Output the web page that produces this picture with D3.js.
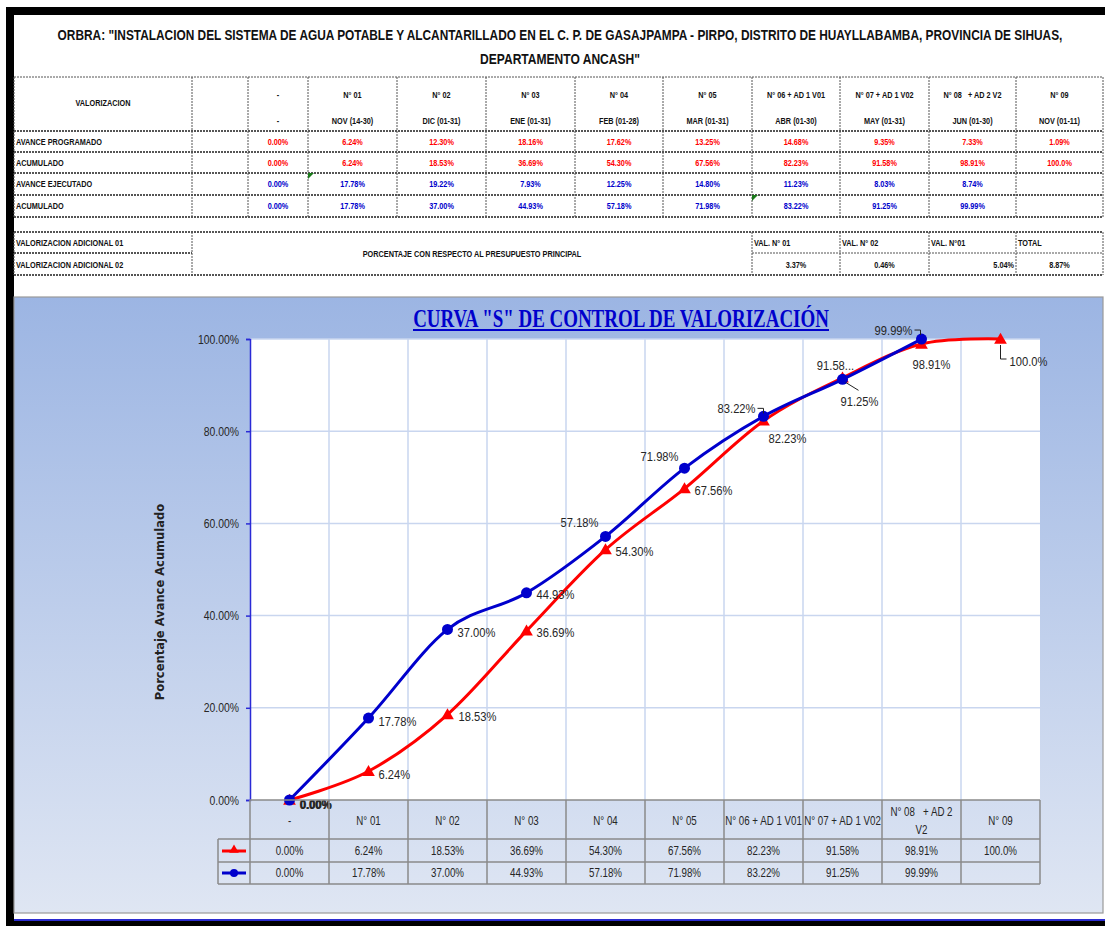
<!DOCTYPE html>
<html>
<head>
<meta charset="utf-8">
<script src="https://cdn.jsdelivr.net/npm/d3@7"></script>
<style>
  body { margin: 0; background: #fff; }
  svg { display: block; }
</style>
</head>
<body>
<div id="chart"></div>
<script>
// ===== data =====
const titleLines = [
  'ORBRA: "INSTALACION DEL SISTEMA DE AGUA POTABLE Y ALCANTARILLADO EN EL C. P. DE GASAJPAMPA - PIRPO, DISTRITO DE HUAYLLABAMBA, PROVINCIA DE SIHUAS,',
  'DEPARTAMENTO ANCASH"'
];
const categories = ['-', 'N° 01', 'N° 02', 'N° 03', 'N° 04', 'N° 05', 'N° 06 + AD 1 V01', 'N° 07 + AD 1 V02', 'N° 08    + AD 2 V2', 'N° 09'];
const periods = ['-', 'NOV (14-30)', 'DIC (01-31)', 'ENE (01-31)', 'FEB (01-28)', 'MAR (01-31)', 'ABR (01-30)', 'MAY (01-31)', 'JUN (01-30)', 'NOV (01-11)'];
const avanceProgramado = [0.00, 6.24, 12.30, 18.16, 17.62, 13.25, 14.68, 9.35, 7.33, 1.09];
const acumProgramado = [0.00, 6.24, 18.53, 36.69, 54.30, 67.56, 82.23, 91.58, 98.91, 100.0];
const avanceEjecutado = [0.00, 17.78, 19.22, 7.93, 12.25, 14.80, 11.23, 8.03, 8.74];
const acumEjecutado = [0.00, 17.78, 37.00, 44.93, 57.18, 71.98, 83.22, 91.25, 99.99];
const adicionalHeads = ['VAL. N° 01', 'VAL. N° 02', 'VAL. N°01', 'TOTAL'];
const adicionalValues = [3.37, 0.46, 5.04, 8.87];
const yTicks = [0, 20, 40, 60, 80, 100];

const fmt = v => v === 100 ? '100.0%' : v.toFixed(2) + '%';
const SANS = '"Liberation Sans", Arial, sans-serif';

// squeeze a text horizontally so it looks like a condensed face (no Calibri here)
function condense(sel, f) {
  sel.each(function () {
    const t = d3.select(this);
    const tx = +t.attr('x') || 0, ty = +t.attr('y') || 0;
    t.attr('x', 0).attr('y', 0).attr('transform', `translate(${tx},${ty}) scale(${f},1)`);
  });
}
// squeeze a text to an exact width
function fitWidth(node, width) {
  const w = node.getComputedTextLength();
  condense(d3.select(node), width / w);
}

const W = 1105, H = 926;
const svg = d3.select('#chart').append('svg').attr('width', W).attr('height', H)
  .style('font-family', SANS);

// ===== frame =====
svg.append('rect').attr('x', 6).attr('y', 7).attr('width', W - 6).attr('height', 8).attr('fill', '#000');
svg.append('rect').attr('x', 6).attr('y', 7).attr('width', 8).attr('height', H - 7).attr('fill', '#000');

// ===== title =====
const title = svg.append('g').style('font-size', '14.5px').style('font-weight', 'bold').attr('fill', '#111');
const t1 = title.append('text').attr('x', 560).attr('y', 40).attr('text-anchor', 'middle').text(titleLines[0]);
const t2 = title.append('text').attr('x', 560).attr('y', 64).attr('text-anchor', 'middle').text(titleLines[1]);
fitWidth(t1.node(), 1005);
fitWidth(t2.node(), 160);

// ===== top table =====
const colX = [14, 192, 248, 308, 397, 486, 575, 663, 752, 840, 929, 1016, 1103];
const rowY = [77, 131, 152, 173, 195, 217];
const tbl = svg.append('g').style('font-size', '8.5px').style('font-weight', 'bold');
const dashLine = (g, x1, y1, x2, y2, w) => g.append('line')
  .attr('x1', x1).attr('y1', y1).attr('x2', x2).attr('y2', y2)
  .attr('stroke', '#555').attr('stroke-width', w || 1).attr('stroke-dasharray', '2,1');

rowY.forEach((y, i) => dashLine(tbl, 14, y, 1103, y, i === 0 ? 1 : 1.8));
colX.forEach(x => dashLine(tbl, x, 77, x, 217));

tbl.append('text').attr('x', 103).attr('y', 106).attr('text-anchor', 'middle').attr('fill', '#111').text('VALORIZACION');
categories.forEach((c, i) => {
  const cx = (colX[i + 2] + colX[i + 3]) / 2;
  tbl.append('text').attr('x', cx).attr('y', 98).attr('text-anchor', 'middle').attr('fill', '#111')
    .attr('xml:space', 'preserve').text(c.replace('    ', '   '));
  tbl.append('text').attr('x', cx).attr('y', 124).attr('text-anchor', 'middle').attr('fill', '#111').text(periods[i]);
});

const rows = [
  { label: 'AVANCE PROGRAMADO', vals: avanceProgramado, color: '#ff0000' },
  { label: 'ACUMULADO', vals: acumProgramado, color: '#ff0000' },
  { label: 'AVANCE EJECUTADO', vals: avanceEjecutado, color: '#0000cc' },
  { label: 'ACUMULADO', vals: acumEjecutado, color: '#0000cc' }
];
rows.forEach((r, ri) => {
  const cy = (rowY[ri + 1] + rowY[ri + 2]) / 2 + 3;
  tbl.append('text').attr('x', 16).attr('y', cy).attr('fill', '#111').text(r.label);
  r.vals.forEach((v, i) => {
    tbl.append('text').attr('x', (colX[i + 2] + colX[i + 3]) / 2).attr('y', cy)
      .attr('text-anchor', 'middle').attr('fill', r.color).text(fmt(v));
  });
});
condense(tbl.selectAll('text'), 0.86);
// comment markers
[[308, 173], [752, 195]].forEach(p => {
  svg.append('path').attr('d', `M${p[0]},${p[1]}l6,0l-6,6z`).attr('fill', '#1a7a1a');
});

// ===== additional valuation block =====
const add = svg.append('g').style('font-size', '8.5px').style('font-weight', 'bold');
dashLine(add, 14, 232, 1103, 232, 1.8);
dashLine(add, 14, 275, 1103, 275, 1.8);
dashLine(add, 14, 253, 192, 253, 1.8);
dashLine(add, 752, 253, 1103, 253, 1.2);
[14, 192, 752, 840, 929, 1016, 1103].forEach(x => dashLine(add, x, 232, x, 275));
add.append('text').attr('x', 16).attr('y', 246).attr('fill', '#111').text('VALORIZACION ADICIONAL 01');
add.append('text').attr('x', 16).attr('y', 268).attr('fill', '#111').text('VALORIZACION ADICIONAL 02');
add.append('text').attr('x', 472).attr('y', 257).attr('text-anchor', 'middle').attr('fill', '#111')
  .text('PORCENTAJE CON RESPECTO AL PRESUPUESTO PRINCIPAL');
const addCols = [752, 840, 929, 1016, 1103];
adicionalHeads.forEach((h, i) => {
  add.append('text').attr('x', addCols[i] + 2).attr('y', 246).attr('fill', '#111').text(h);
  const right = i === 2;
  add.append('text')
    .attr('x', right ? addCols[i + 1] - 2 : (addCols[i] + addCols[i + 1]) / 2)
    .attr('y', 268).attr('text-anchor', right ? 'end' : 'middle').attr('fill', '#111')
    .text(fmt(adicionalValues[i]));
});
condense(add.selectAll('text'), 0.86);

// ===== chart area =====
const defs = svg.append('defs');
const grad = defs.append('linearGradient').attr('id', 'bg').attr('x1', 0).attr('y1', 0).attr('x2', 0).attr('y2', 1);
grad.append('stop').attr('offset', '0%').attr('stop-color', '#9cb5e3');
grad.append('stop').attr('offset', '100%').attr('stop-color', '#dfe6f3');
svg.append('rect').attr('x', 14).attr('y', 297).attr('width', 1089).attr('height', 616)
  .attr('fill', 'url(#bg)').attr('stroke', '#9a9a9a').attr('stroke-width', 1.2);
svg.append('line').attr('x1', 14).attr('x2', W).attr('y1', 920).attr('y2', 920).attr('stroke', '#2b2bd0').attr('stroke-width', 2);
svg.append('rect').attr('x', 14).attr('y', 921).attr('width', W - 14).attr('height', 5).attr('fill', '#000');

const x = d3.scaleBand().domain(categories).range([250, 1040]);
const y = d3.scaleLinear().domain([0, 100]).range([800, 339]);
const cx = i => x(categories[i]) + x.bandwidth() / 2;

svg.append('rect').attr('x', 250).attr('y', 339).attr('width', 790).attr('height', 461).attr('fill', '#fff');

// grid
svg.append('g').selectAll('line').data(yTicks.slice(1)).enter().append('line')
  .attr('x1', 250).attr('x2', 1040).attr('y1', d => y(d)).attr('y2', d => y(d))
  .attr('stroke', '#c9d6ef').attr('stroke-width', 1.5);
svg.append('g').selectAll('line').data(categories.slice(1)).enter().append('line')
  .attr('x1', d => x(d)).attr('x2', d => x(d)).attr('y1', 339).attr('y2', 800)
  .attr('stroke', '#c9d6ef').attr('stroke-width', 1.5);

// y axis
const yAxis = svg.append('g').attr('transform', 'translate(250,0)')
  .call(d3.axisLeft(y).tickValues(yTicks).tickSize(4).tickPadding(7).tickFormat(d => d.toFixed(2) + '%'));
yAxis.selectAll('.domain').attr('stroke', '#2a2ad6').attr('stroke-width', 1.5);
yAxis.selectAll('.tick line').attr('stroke', '#2a2ad6').attr('stroke-width', 1.5);
yAxis.selectAll('text').style('font-family', SANS).style('font-size', '13px').attr('fill', '#262626');
condense(yAxis.selectAll('text'), 0.8);

svg.append('text').attr('transform', 'translate(164,602) rotate(-90)').attr('text-anchor', 'middle')
  .style('font-family', '"DejaVu Sans", Verdana, sans-serif').style('font-size', '11.5px').style('font-weight', 'bold')
  .attr('fill', '#222').text('Porcentaje Avance Acumulado');

// chart title
const ct = svg.append('text').attr('x', 621).attr('y', 327).attr('text-anchor', 'middle')
  .style('font-family', '"Liberation Serif", "Times New Roman", serif').style('font-size', '25px').style('font-weight', 'bold')
  .attr('fill', '#0000cc').text('CURVA "S" DE CONTROL DE VALORIZACIÓN');
fitWidth(ct.node(), 416);
svg.append('line').attr('x1', 413).attr('x2', 829).attr('y1', 330).attr('y2', 330).attr('stroke', '#0000cc').attr('stroke-width', 2);

// ===== series =====
const lineGen = d3.line().x((d, i) => cx(i)).y(d => y(d)).curve(d3.curveCardinal.tension(0));
svg.append('path').datum(acumProgramado).attr('d', lineGen)
  .attr('fill', 'none').attr('stroke', '#ff0000').attr('stroke-width', 3);
svg.append('g').selectAll('path').data(acumProgramado).enter().append('path')
  .attr('d', d3.symbol().type(d3.symbolTriangle).size(70))
  .attr('transform', (d, i) => `translate(${cx(i)},${y(d) + 1})`).attr('fill', '#ff0000');

svg.append('path').datum(acumEjecutado).attr('d', lineGen)
  .attr('fill', 'none').attr('stroke', '#0000cc').attr('stroke-width', 3);
svg.append('g').selectAll('circle').data(acumEjecutado).enter().append('circle')
  .attr('cx', (d, i) => cx(i)).attr('cy', d => y(d)).attr('r', 5.5).attr('fill', '#0000cc');

// data labels (anchor, dx, dy, leader)
const progLabelPos = [
  ['start', 10, 4], ['start', 10, 3], ['start', 11, 2], ['start', 10, 2], ['start', 10, 2],
  ['start', 10, 2], ['start', 5, 18], ['middle', -7, -12, 'diag'], ['middle', 10, 20], ['start', 9, 22, 'elbow']
];
const ejecLabelPos = [
  ['start', 10.7, 4], ['start', 10, 3], ['start', 10, 3], ['start', 10, 2], ['end', -7, -14],
  ['end', -6, -12], ['end', -8, -8, 'hook'], ['start', -2, 22, 'diag'], ['end', -9, -9, 'hook']
];
const labels = svg.append('g').style('font-size', '13px').attr('fill', '#262626');
function drawLabels(vals, pos, prog) {
  vals.forEach((v, i) => {
    const [anchor, dx, dy, leader] = pos[i];
    const px = cx(i), py = y(v);
    let txt = fmt(v);
    if (prog && i === 7) txt = '91.58...';
    labels.append('text').attr('x', px + dx).attr('y', py + dy).attr('dy', '0.35em')
      .attr('text-anchor', anchor).style('font-weight', i === 0 ? 'bold' : null).text(txt);
    let d = null;
    if (leader === 'elbow') d = `M${px},${py + 6}V${py + 20}h6`;
    if (leader === 'hook') d = `M${px + dx + 2},${py + dy}h6v5`;
    if (leader === 'diag' && !prog) d = `M${px + 3},${py + 3}L${px + 16},${py + 11}`;
    if (d) labels.append('path').attr('d', d).attr('fill', 'none').attr('stroke', '#222').attr('stroke-width', 1);
  });
}
drawLabels(acumProgramado, progLabelPos, true);
drawLabels(acumEjecutado, ejecLabelPos, false);
condense(labels.selectAll('text'), 0.86);

// ===== data table under the chart =====
const dt = svg.append('g').style('font-size', '12.5px');
const gridStroke = '#8a8a8a';
const hl = (x1, x2, yy) => dt.append('line').attr('x1', x1).attr('x2', x2).attr('y1', yy).attr('y2', yy)
  .attr('stroke', gridStroke).attr('stroke-width', 1.5);
hl(250, 1040, 800); hl(218, 1040, 839); hl(218, 1040, 862); hl(218, 1040, 884);
categories.concat(['end']).forEach((c, i) => {
  const xx = i < categories.length ? x(c) : 1040;
  dt.append('line').attr('x1', xx).attr('x2', xx).attr('y1', 800).attr('y2', 884)
    .attr('stroke', gridStroke).attr('stroke-width', 1.5);
});
dt.append('line').attr('x1', 218).attr('x2', 218).attr('y1', 839).attr('y2', 884).attr('stroke', gridStroke).attr('stroke-width', 1.5);

const dtText = dt.append('g');
categories.forEach((c, i) => {
  if (c.indexOf('    ') >= 0) {
    const parts = c.split(' ');
    dtText.append('text').attr('x', cx(i)).attr('y', 812).attr('dy', '0.35em').attr('text-anchor', 'middle')
      .attr('fill', '#262626').attr('xml:space', 'preserve').text('N° 08   + AD 2');
    dtText.append('text').attr('x', cx(i)).attr('y', 830).attr('dy', '0.35em').attr('text-anchor', 'middle')
      .attr('fill', '#262626').text(parts[parts.length - 1]);
  } else {
    dtText.append('text').attr('x', cx(i)).attr('y', 821).attr('dy', '0.35em').attr('text-anchor', 'middle')
      .attr('fill', '#262626').text(c);
  }
});
[[acumProgramado, 851], [acumEjecutado, 873]].forEach(([vals, yy]) => {
  vals.forEach((v, i) => {
    dtText.append('text').attr('x', cx(i)).attr('y', yy).attr('dy', '0.35em').attr('text-anchor', 'middle')
      .attr('fill', '#262626').text(fmt(v));
  });
});
condense(dtText.selectAll('text'), 0.78);
// legend keys
dt.append('line').attr('x1', 222).attr('x2', 246).attr('y1', 851).attr('y2', 851).attr('stroke', '#ff0000').attr('stroke-width', 3);
dt.append('path').attr('d', d3.symbol().type(d3.symbolTriangle).size(40)).attr('transform', 'translate(234,850)').attr('fill', '#ff0000');
dt.append('line').attr('x1', 222).attr('x2', 246).attr('y1', 873).attr('y2', 873).attr('stroke', '#0000cc').attr('stroke-width', 3);
dt.append('circle').attr('cx', 234).attr('cy', 873).attr('r', 4).attr('fill', '#0000cc');
</script>
</body>
</html>
